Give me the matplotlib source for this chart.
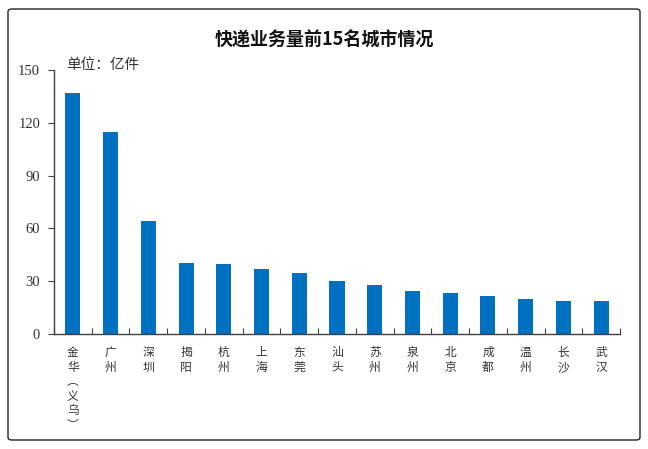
import matplotlib
matplotlib.use('Agg')
import matplotlib.pyplot as plt
from matplotlib.patches import FancyBboxPatch

plt.rcParams['font.family'] = ['Noto Sans CJK SC', 'DejaVu Sans']

# data
cities = ['金华（义乌）', '广州', '深圳', '揭阳', '杭州', '上海', '东莞', '汕头',
          '苏州', '泉州', '北京', '成都', '温州', '长沙', '武汉']
volume = [137.0, 114.8, 64.2, 40.3, 39.8, 36.9, 34.7, 30.1,
          27.8, 24.4, 23.3, 21.6, 19.9, 18.7, 18.6]
yticks = [0, 30, 60, 90, 120, 150]

title = '快递业务量前15名城市情况'
unit = '单位：亿件'

bar_color = '#0070C0'
axis_color = '#404040'


def vertical(label):
    # stack characters one per line, brackets in vertical form
    label = label.replace('（', '︵').replace('）', '︶')
    return '\n'.join(label)


fig = plt.figure(figsize=(6.48, 4.49), dpi=100)

# rounded frame round the whole chart
frame = FancyBboxPatch((8 / 648, 9 / 449), 632 / 648, 431 / 449,
                       boxstyle='round,pad=0,rounding_size=0.006',
                       transform=fig.transFigure, fill=False,
                       edgecolor='#222222', linewidth=1.0)
fig.patches.append(frame)

ax = fig.add_axes([54 / 648, 1 - 334 / 449, 566 / 648, 264 / 449])
x = list(range(len(cities)))
ax.bar(x, volume, width=0.4, color=bar_color, zorder=2)

ax.set_xlim(-0.5, len(cities) - 0.5)
ax.set_ylim(0, 150)

for side in ['top', 'right']:
    ax.spines[side].set_visible(False)
for side in ['left', 'bottom']:
    ax.spines[side].set_color(axis_color)
    ax.spines[side].set_linewidth(1.0)

ax.set_yticks(yticks)
ax.set_yticklabels([str(v) for v in yticks], family='Liberation Serif',
                   fontsize=10.5, color='#333333')
ax.tick_params(axis='y', direction='out', length=4, color=axis_color, pad=6)

# category ticks between bars, pointing up
ax.set_xticks([i - 0.5 for i in range(len(cities) + 1)], minor=False)
ax.set_xticklabels([])
ax.tick_params(axis='x', which='major', direction='in', length=4, color=axis_color)
for i, c in enumerate(cities):
    ax.text(i, -7, vertical(c), ha='center', va='top', fontsize=8.5,
            color='#333333', linespacing=1.15, transform=ax.transData)

fig.text(0.5, 1 - 40 / 449, title, ha='center', va='center',
         fontsize=13, fontweight='bold', color='#111111')
fig.text(66 / 648, 1 - 65 / 449, unit, ha='left', va='center',
         fontsize=10.5, color='#333333')

fig.savefig('out.png', dpi=100)
